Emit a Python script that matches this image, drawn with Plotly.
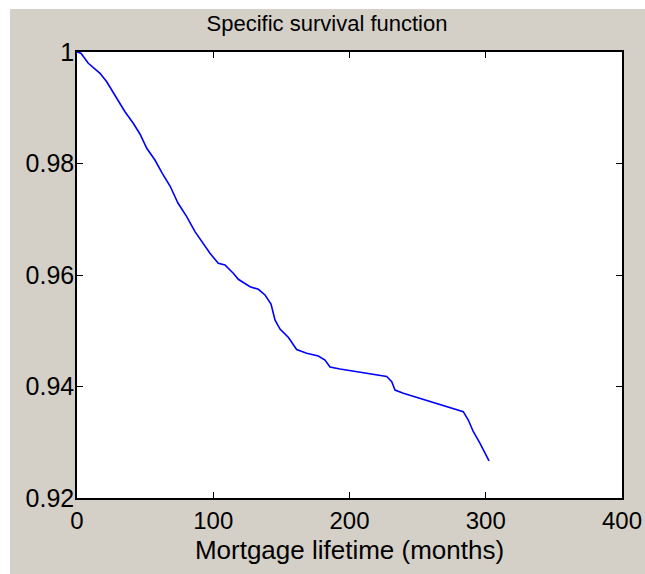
import plotly.graph_objects as go

months = [0, 2.9, 8.3, 12.0, 16.9, 21.8, 25.5, 30.3, 35.2, 41.3, 46.2, 51.2, 57.2, 62.6,
          68.3, 74.1, 80.5, 86.6, 91.5, 97.6, 103.7, 108.6, 114.7, 118.4, 127.0, 133.1,
          138.0, 142.4, 145.3, 149.0, 155.2, 161.2, 168.6, 177.1, 182.0, 185.7, 193.0,
          207.7, 217.5, 227.3, 231.0, 233.4, 239.5, 249.3, 259.1, 268.8, 278.7, 283.5,
          287.2, 290.9, 295.8, 301.9, 302.4]
survival = [1.0, 0.99977, 0.99797, 0.99722, 0.99618, 0.99467, 0.99318, 0.99139, 0.98929,
            0.98721, 0.98529, 0.98273, 0.98063, 0.97824, 0.97596, 0.97291, 0.97046,
            0.96777, 0.96597, 0.96389, 0.96210, 0.96179, 0.96031, 0.95923, 0.95790,
            0.95744, 0.95641, 0.95480, 0.95193, 0.95031, 0.94879, 0.94664, 0.94596,
            0.94547, 0.94475, 0.94350, 0.94314, 0.94255, 0.94206, 0.94179, 0.94086,
            0.93937, 0.93878, 0.93806, 0.93727, 0.93650, 0.93591, 0.93548, 0.93399,
            0.93189, 0.92981, 0.92682, 0.92664]

x_ticks = [0, 100, 200, 300, 400]
y_ticks = [0.92, 0.94, 0.96, 0.98, 1.0]
y_tick_text = ["0.92", "0.94", "0.96", "0.98", "1"]

W, H = 645, 574
L, R, T, B = 77, 23, 52, 76
GRAY = "#d4d0c8"
FONT = "Liberation Sans, Arial, sans-serif"

fig = go.Figure()
fig.add_trace(go.Scatter(x=months, y=survival, mode="lines",
                         line=dict(color="#0000ff", width=1.6), showlegend=False))

pw, ph = W - L - R, H - T - B
def px_x(p):
    return (p - L) / pw
def px_y(p):
    return (H - B - p) / ph

fig.update_layout(
    width=W, height=H, autosize=False,
    margin=dict(l=L, r=R, t=T, b=B, pad=0, autoexpand=False),
    paper_bgcolor=GRAY, plot_bgcolor="white",
    font=dict(family=FONT, color="black", size=24),
    title=dict(text="Specific survival function", x=327 / W, xanchor="center",
               xref="container", automargin=False,
               y=1 - 23 / H, yanchor="middle", yref="container",
               font=dict(size=22, family=FONT, color="black")),
    xaxis=dict(range=[0, 400], tickvals=x_ticks, ticks="inside", ticklen=6,
               tickcolor="black", showline=True, linecolor="black", linewidth=1.5,
               mirror="ticks", showgrid=False, zeroline=False, automargin=False,
               ticklabeloverflow="allow",
               tickfont=dict(size=24, family=FONT),
               title=dict(text="Mortgage lifetime (months)", standoff=8,
                          font=dict(size=26, family=FONT))),
    yaxis=dict(range=[0.92, 1.0], tickvals=y_ticks, ticktext=y_tick_text,
               ticks="inside", ticklen=6, tickcolor="black", showline=True,
               linecolor="black", linewidth=1.5, mirror="ticks", showgrid=False,
               zeroline=False, ticklabeloverflow="allow", automargin=False,
               ticklabelstandoff=-4,
               tickfont=dict(size=25, family=FONT)),
    shapes=[
        dict(type="rect", xref="paper", yref="paper", x0=px_x(0), x1=px_x(10),
             y0=px_y(H), y1=px_y(0), fillcolor="white", line=dict(width=0), layer="below"),
        dict(type="rect", xref="paper", yref="paper", x0=px_x(0), x1=px_x(W),
             y0=px_y(9), y1=px_y(0), fillcolor="white", line=dict(width=0), layer="below"),
    ],
)

fig.write_html(
    "out.html",
    post_script="document.documentElement.style.overflow='hidden';"
                "document.body.style.margin='0';document.body.style.overflow='hidden';",
)
